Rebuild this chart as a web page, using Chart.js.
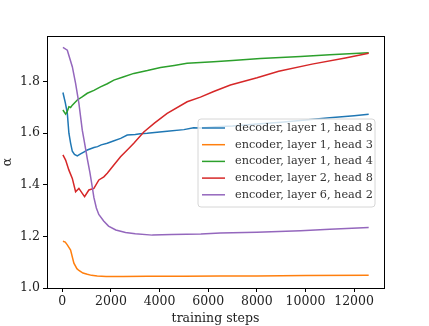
<!DOCTYPE html>
<html><head><meta charset="utf-8">
<script src="https://cdn.jsdelivr.net/npm/chart.js@4/dist/chart.umd.min.js"></script>
<style>html,body{margin:0;padding:0;background:#fff}#c{display:block}</style>
</head><body>
<canvas id="c" width="429" height="326"></canvas>
<script>
const seriesLabels = ["decoder, layer 1, head 8","encoder, layer 1, head 3","encoder, layer 1, head 4","encoder, layer 2, head 8","encoder, layer 6, head 2"];
const seriesColors = ["#1f77b4","#ff7f0e","#2ca02c","#d62728","#9467bd"];
const xTicks = [0,2000,4000,6000,8000,10000,12000];
const yTicks = [1.0,1.2,1.4,1.6,1.8];

const decL1H8 = [[25,1.758],[120,1.72],[205,1.678],[271,1.60],[340,1.562],[411,1.530],[500,1.518],[616,1.512],[750,1.520],[900,1.528],[1027,1.535],[1300,1.545],[1450,1.548],[1600,1.555],[1848,1.561],[2100,1.570],[2400,1.580],[2670,1.593],[3000,1.595],[3200,1.598],[3490,1.600],[4000,1.605],[4312,1.608],[5000,1.614],[5400,1.621],[5700,1.620],[6300,1.625],[7000,1.628],[8000,1.636],[9000,1.643],[10000,1.651],[11000,1.660],[12000,1.668],[12600,1.674]];
const encL1H3 = [[25,1.181],[120,1.178],[205,1.167],[340,1.147],[476,1.096],[600,1.075],[682,1.068],[850,1.058],[1027,1.053],[1200,1.049],[1437,1.047],[1800,1.045],[2500,1.045],[3500,1.046],[5000,1.046],[6500,1.047],[8000,1.047],[10000,1.048],[12600,1.049]];
const encL1H4 = [[25,1.690],[136,1.674],[205,1.685],[271,1.703],[340,1.700],[411,1.709],[616,1.729],[800,1.740],[1027,1.755],[1300,1.766],[1570,1.780],[1850,1.792],[2120,1.806],[2500,1.818],[2940,1.832],[3500,1.843],[4040,1.855],[4600,1.863],[5130,1.871],[5680,1.874],[6220,1.877],[7000,1.882],[8145,1.890],[9800,1.898],[11000,1.904],[12600,1.912]];
const encL2H8 = [[25,1.516],[136,1.496],[271,1.457],[411,1.425],[546,1.373],[682,1.386],[821,1.367],[916,1.354],[1092,1.380],[1298,1.386],[1503,1.419],[1708,1.431],[1848,1.445],[2119,1.477],[2394,1.509],[2670,1.535],[2940,1.561],[3351,1.605],[3800,1.640],[4312,1.677],[5134,1.722],[5680,1.740],[6226,1.762],[6912,1.787],[8008,1.815],[8900,1.840],[10270,1.868],[11640,1.892],[12600,1.910]];
const encL6H2 = [[25,1.933],[205,1.922],[411,1.858],[546,1.793],[682,1.716],[821,1.612],[900,1.57],[1030,1.50],[1130,1.45],[1200,1.41],[1300,1.35],[1400,1.31],[1500,1.285],[1700,1.26],[1900,1.240],[2200,1.225],[2600,1.215],[3000,1.210],[3700,1.205],[4500,1.207],[5700,1.209],[6500,1.213],[8000,1.216],[9800,1.222],[11000,1.228],[12600,1.235]];
const seriesData = [decL1H8, encL1H3, encL1H4, encL2H8, encL6H2];

const FONT = "'DejaVu Serif', serif";

const frame = {
  id:'frame',
  afterDatasetsDraw(chart){
    const {ctx, chartArea:a} = chart;
    ctx.save();
    ctx.strokeStyle='#000'; ctx.lineWidth=1;
    ctx.strokeRect(Math.round(a.left)+0.5, Math.round(a.top)+0.5, Math.round(a.right-a.left), Math.round(a.bottom-a.top));
    // legend
    const x0=198, y0=119, w=177, h=88, r=3;
    ctx.beginPath();
    ctx.moveTo(x0+r,y0); ctx.lineTo(x0+w-r,y0); ctx.quadraticCurveTo(x0+w,y0,x0+w,y0+r);
    ctx.lineTo(x0+w,y0+h-r); ctx.quadraticCurveTo(x0+w,y0+h,x0+w-r,y0+h);
    ctx.lineTo(x0+r,y0+h); ctx.quadraticCurveTo(x0,y0+h,x0,y0+h-r);
    ctx.lineTo(x0,y0+r); ctx.quadraticCurveTo(x0,y0,x0+r,y0); ctx.closePath();
    ctx.fillStyle='rgba(255,255,255,0.8)'; ctx.fill();
    ctx.strokeStyle='#d6d6d6'; ctx.lineWidth=1; ctx.stroke();
    ctx.font = "11.3px " + FONT;
    ctx.textBaseline='middle'; ctx.textAlign='left';
    chart.data.datasets.forEach((ds,i)=>{
      const yy = y0+9+i*16.7;
      ctx.strokeStyle=ds.borderColor; ctx.lineWidth=1.5;
      ctx.beginPath(); ctx.moveTo(202,yy); ctx.lineTo(225,yy); ctx.stroke();
      ctx.fillStyle='#333'; ctx.fillText(ds.label, 235, yy);
    });
    ctx.restore();
  }
};

new Chart(document.getElementById('c'), {
  type:'line',
  data:{ datasets: seriesData.map((d,i)=>({
    label: seriesLabels[i],
    data: d.map(p=>({x:p[0], y:p[1]})),
    borderColor: seriesColors[i], backgroundColor: seriesColors[i],
    borderWidth:1.5, pointRadius:0, tension:0, fill:false, order: 5-i
  }))},
  options:{
    responsive:false, animation:false, devicePixelRatio:1,
    layout:{padding:{left:0,right:45,top:36,bottom:0}},
    plugins:{legend:{display:false}, tooltip:{enabled:false}},
    scales:{
      x:{type:'linear', min:-630, max:13230,
        afterBuildTicks(s){ s.ticks = xTicks.map(v=>({value:v})); },
        afterFit(s){ s.height = 38; },
        grid:{drawOnChartArea:false, drawTicks:true, tickLength:4, color:'#000'},
        border:{display:false},
        ticks:{color:'#222', font:{family:FONT, size:12.5}, padding:2, maxRotation:0, callback:v=>String(v)},
        title:{display:true, text:'training steps', color:'#222', font:{family:FONT, size:12.5}, padding:{top:0,bottom:0}}
      },
      y:{type:'linear', min:1.0, max:1.977,
        afterBuildTicks(s){ s.ticks = yTicks.map(v=>({value:v})); },
        afterFit(s){ s.width = 47; },
        grid:{drawOnChartArea:false, drawTicks:true, tickLength:4, color:'#000'},
        border:{display:false},
        ticks:{color:'#222', font:{family:FONT, size:12.5}, padding:3, callback:v=>Number(v).toFixed(1)},
        title:{display:true, text:'α', color:'#222', font:{family:FONT, size:12.5}, padding:{top:0,bottom:0}}
      }
    }
  },
  plugins:[frame]
});
</script>
</body></html>
